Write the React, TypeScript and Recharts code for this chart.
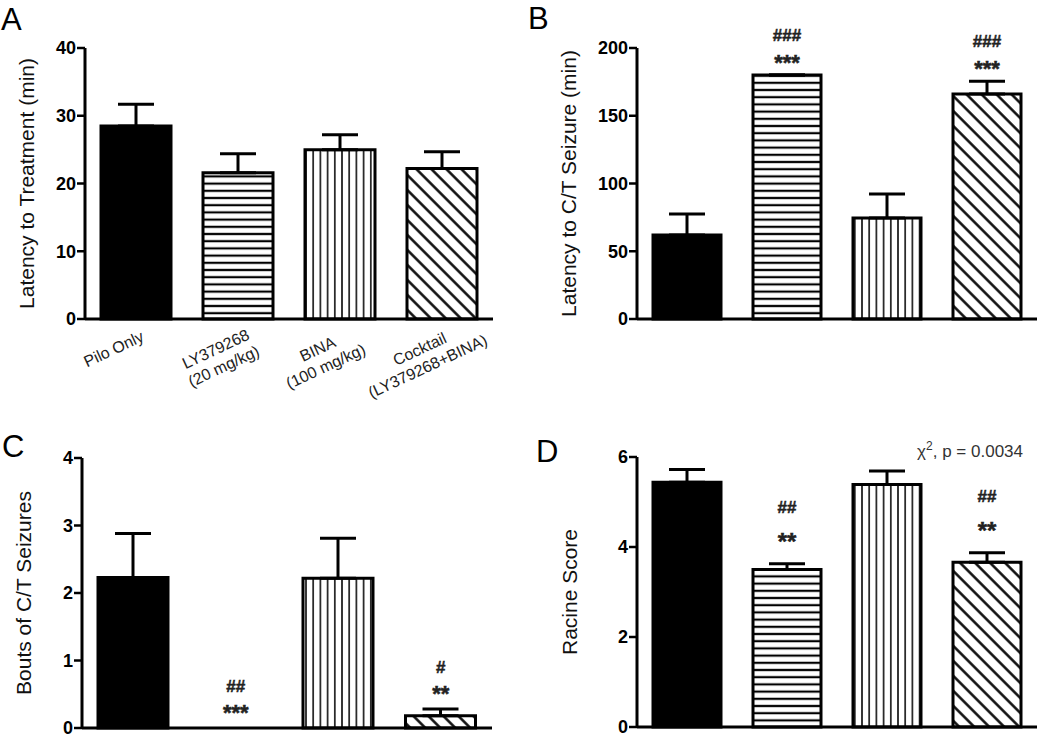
import React from "react";
import { ComposedChart, Bar, Cell, ErrorBar, Line, LabelList, XAxis, YAxis } from "recharts";

// groups on the x axis (only labelled under panel A)
const groups = ["Pilo Only", "LY379268", "BINA", "Cocktail"];
const groupDoses = ["", "(20 mg/kg)", "(100 mg/kg)", "(LY379268+BINA)"];

// A: latency to treatment (min)
const treatLatency = [28.5, 21.6, 25.0, 22.2];
const treatSem = [3.2, 2.8, 2.2, 2.5];
const treatTicks = [0, 10, 20, 30, 40];

// B: latency to C/T seizure (min)
const ctLatency = [62, 180, 74.5, 166];
const ctSem = [15.5, 0, 17.8, 9.4];
const ctTicks = [0, 50, 100, 150, 200];
const ctHash = ["", "###", "", "###"];
const ctStar = ["", "***", "", "***"];

// C: bouts of C/T seizures
const bouts = [2.23, 0, 2.22, 0.18];
const boutsSem = [0.65, 0, 0.59, 0.1];
const boutsTicks = [0, 1, 2, 3, 4];
const boutsHash = ["", "##", "", "#"];
const boutsStar = ["", "***", "", "**"];

// D: racine score
const racine = [5.44, 3.5, 5.39, 3.66];
const racineSem = [0.28, 0.13, 0.3, 0.21];
const racineTicks = [0, 2, 4, 6];
const racineHash = ["", "##", "", "##"];
const racineStar = ["", "**", "", "**"];

const patternDefs = (id: string) => (
  <defs>
    <pattern id={`hz-${id}`} patternUnits="userSpaceOnUse" width={10} height={7.2}>
      <rect width={10} height={7.2} fill="#fff" />
      <line x1={0} y1={3.6} x2={10} y2={3.6} stroke="#000" strokeWidth={2.2} />
    </pattern>
    <pattern id={`vt-${id}`} patternUnits="userSpaceOnUse" width={7.2} height={10}>
      <rect width={7.2} height={10} fill="#fff" />
      <line x1={3.6} y1={0} x2={3.6} y2={10} stroke="#000" strokeWidth={1.5} />
    </pattern>
    <pattern id={`dg-${id}`} patternUnits="userSpaceOnUse" width={10.6} height={10.6} patternTransform="rotate(-45)">
      <rect width={10.6} height={10.6} fill="#fff" />
      <line x1={5.3} y1={0} x2={5.3} y2={10.6} stroke="#000" strokeWidth={2.4} />
    </pattern>
  </defs>
);

const GroupTick = (props: any) => {
  const { x, y, payload } = props;
  const dose = groupDoses[groups.indexOf(payload.value)];
  return (
    <g transform={`translate(${x - 20},${y + 27}) rotate(-25)`}>
      <text textAnchor="middle" fontSize={16} fill="#222">
        <tspan x={0} dy={0}>{payload.value}</tspan>
        {dose && <tspan x={0} dy={19}>{dose}</tspan>}
      </text>
    </g>
  );
};

// annotation text sitting above the error bar tip
const annotation = (lift: number, size: number) => (props: any) => {
  const { x, y, value } = props;
  if (!value) return null;
  return (
    <text
      x={x}
      y={y - lift}
      textAnchor="middle"
      fontSize={size}
      fontWeight="bold"
      fill="#222"
      stroke="#222"
      strokeWidth={0.5}
    >
      {value}
    </text>
  );
};

interface PanelProps {
  id: string;
  letter: string;
  letterPos: [number, number];
  left: number;
  top: number;
  width: number;
  height: number;
  margin: { top: number; right: number; bottom: number; left: number };
  axisWidth: number;
  xAxisHeight: number;
  title: string;
  titleOffset: number;
  values: number[];
  sems: number[];
  ticks: number[];
  barSize: number;
  hashes?: string[];
  stars?: string[];
  starLift?: number;
  hashLift?: number;
  starSize?: number;
  showGroups?: boolean;
  extra?: React.ReactNode;
}

function Panel(p: PanelProps) {
  const fills = ["#000", `url(#hz-${p.id})`, `url(#vt-${p.id})`, `url(#dg-${p.id})`];
  const data = groups.map((g, i) => ({
    name: g,
    value: p.values[i],
    err: [0, p.sems[i]],
    tip: p.values[i] + p.sems[i],
    hash: p.hashes ? p.hashes[i] : "",
    star: p.stars ? p.stars[i] : "",
  }));
  return (
    <div style={{ position: "absolute", left: p.left, top: p.top }}>
      <ComposedChart width={p.width} height={p.height} data={data} margin={p.margin}>
        {patternDefs(p.id)}
        <text x={p.letterPos[0]} y={p.letterPos[1]} fontSize={31} fill="#000">
          {p.letter}
        </text>
        {p.extra}
        <XAxis
          dataKey="name"
          interval={0}
          height={p.xAxisHeight}
          axisLine={{ stroke: "#000", strokeWidth: 3 }}
          tickLine={false}
          tick={p.showGroups ? <GroupTick /> : false}
        />
        <YAxis
          width={p.axisWidth}
          domain={[p.ticks[0], p.ticks[p.ticks.length - 1]]}
          ticks={p.ticks}
          interval={0}
          axisLine={{ stroke: "#000", strokeWidth: 3 }}
          tickLine={{ stroke: "#000", strokeWidth: 2.5 }}
          tickSize={8}
          tickMargin={1}
          tick={{ fill: "#000", fontSize: 18, fontWeight: "bold" }}
          label={{
            value: p.title,
            angle: -90,
            position: "insideLeft",
            offset: p.titleOffset,
            style: { textAnchor: "middle", fontSize: 21, fill: "#111" },
          }}
        />
        <Bar dataKey="value" barSize={p.barSize} stroke="#000" strokeWidth={3} isAnimationActive={false}>
          {data.map((d, i) => (
            <Cell key={d.name} fill={fills[i]} />
          ))}
          <ErrorBar dataKey="err" width={18} stroke="#000" strokeWidth={3} direction="y" />
        </Bar>
        <Line dataKey="tip" stroke="none" dot={false} activeDot={false} legendType="none" isAnimationActive={false}>
          <LabelList dataKey="star" content={annotation(p.starLift ?? 0, p.starSize ?? 22)} />
          <LabelList dataKey="hash" content={annotation(p.hashLift ?? 0, 17)} />
        </Line>
      </ComposedChart>
    </div>
  );
}

export default function App() {
  return (
    <div
      style={{
        position: "absolute",
        left: 0,
        top: 0,
        width: 1050,
        height: 738,
        background: "#fff",
        fontFamily: "'Liberation Sans', Arial, sans-serif",
      }}
    >
      <Panel
        id="a"
        letter="A"
        letterPos={[1, 30]}
        left={0}
        top={0}
        width={520}
        height={430}
        margin={{ top: 48, right: 27, bottom: 36, left: 5 }}
        axisWidth={80}
        xAxisHeight={75}
        title="Latency to Treatment (min)"
        titleOffset={22}
        values={treatLatency}
        sems={treatSem}
        ticks={treatTicks}
        barSize={70}
        showGroups
      />
      <Panel
        id="b"
        letter="B"
        letterPos={[8, 29]}
        left={520}
        top={0}
        width={530}
        height={400}
        margin={{ top: 48, right: 13, bottom: 76, left: 5 }}
        axisWidth={112}
        xAxisHeight={5}
        title="Latency to C/T Seizure (min)"
        titleOffset={44}
        values={ctLatency}
        sems={ctSem}
        ticks={ctTicks}
        barSize={68}
        hashes={ctHash}
        stars={ctStar}
        starLift={5.5}
        hashLift={34}
      />
      <Panel
        id="c"
        letter="C"
        letterPos={[2, 57]}
        left={0}
        top={400}
        width={520}
        height={338}
        margin={{ top: 58, right: 28, bottom: 5, left: 5 }}
        axisWidth={77}
        xAxisHeight={5}
        title="Bouts of C/T Seizures"
        titleOffset={19}
        values={bouts}
        sems={boutsSem}
        ticks={boutsTicks}
        barSize={70}
        hashes={boutsHash}
        stars={boutsStar}
        starLift={8.5}
        hashLift={36}
      />
      <Panel
        id="d"
        letter="D"
        letterPos={[16, 62]}
        left={520}
        top={400}
        width={530}
        height={338}
        margin={{ top: 57, right: 13, bottom: 6, left: 5 }}
        axisWidth={112}
        xAxisHeight={5}
        title="Racine Score"
        titleOffset={45}
        values={racine}
        sems={racineSem}
        ticks={racineTicks}
        barSize={68}
        hashes={racineHash}
        stars={racineStar}
        starLift={14}
        hashLift={51}
        starSize={24}
        extra={
          <text x={503} y={57} textAnchor="end" fontSize={17} fill="#333">
            χ<tspan dy={-7} fontSize={12}>2</tspan>
            <tspan dy={7}>, p = 0.0034</tspan>
          </text>
        }
      />
    </div>
  );
}
